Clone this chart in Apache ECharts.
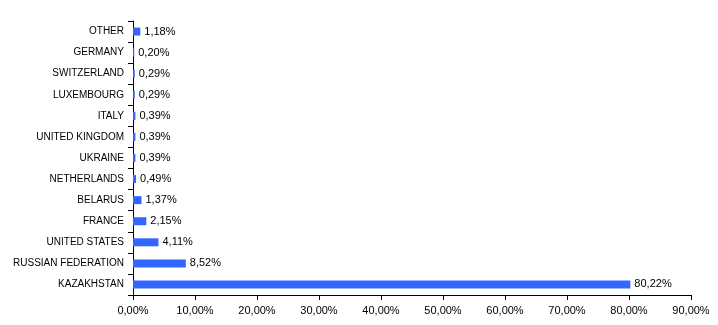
<!DOCTYPE html>
<html><head><meta charset="utf-8">
<script src="https://cdn.jsdelivr.net/npm/echarts@6/dist/echarts.min.js"></script>
<style>html,body{margin:0;padding:0;background:#fff}#c{width:718px;height:325px}</style>
</head><body><div id="c"></div>
<script>
const categories = ['KAZAKHSTAN','RUSSIAN FEDERATION','UNITED STATES','FRANCE','BELARUS','NETHERLANDS','UKRAINE','UNITED KINGDOM','ITALY','LUXEMBOURG','SWITZERLAND','GERMANY','OTHER'];
const values = [80.22, 8.52, 4.11, 2.15, 1.37, 0.49, 0.39, 0.39, 0.39, 0.29, 0.29, 0.20, 1.18];
const fmt = v => v.toFixed(2).replace('.', ',') + '%';
const chart = echarts.init(document.getElementById('c'));
chart.setOption({
  animation: false,
  textStyle: {fontFamily: 'Liberation Sans, Arial, sans-serif'},
  grid: {left: 133, right: 27, top: 21, bottom: 30, containLabel: false},
  xAxis: {
    type: 'value', min: 0, max: 90, interval: 10,
    axisLine: {show: true, lineStyle: {color: '#000'}},
    axisTick: {show: true, length: 5, lineStyle: {color: '#000'}},
    splitLine: {show: false},
    axisLabel: {formatter: fmt, color: '#000', fontSize: 11, margin: 10}
  },
  yAxis: {
    type: 'category', data: categories,
    axisLine: {show: true, lineStyle: {color: '#000'}},
    axisTick: {show: true, length: 5, lineStyle: {color: '#000'}},
    axisLabel: {color: '#000', fontSize: 10, margin: 9}
  },
  series: [{
    type: 'bar', data: values, barWidth: 8,
    itemStyle: {color: '#3366ff'},
    label: {show: true, position: 'right', distance: 4, formatter: p => fmt(p.value), color: '#000', fontSize: 11}
  }]
});
</script></body></html>
